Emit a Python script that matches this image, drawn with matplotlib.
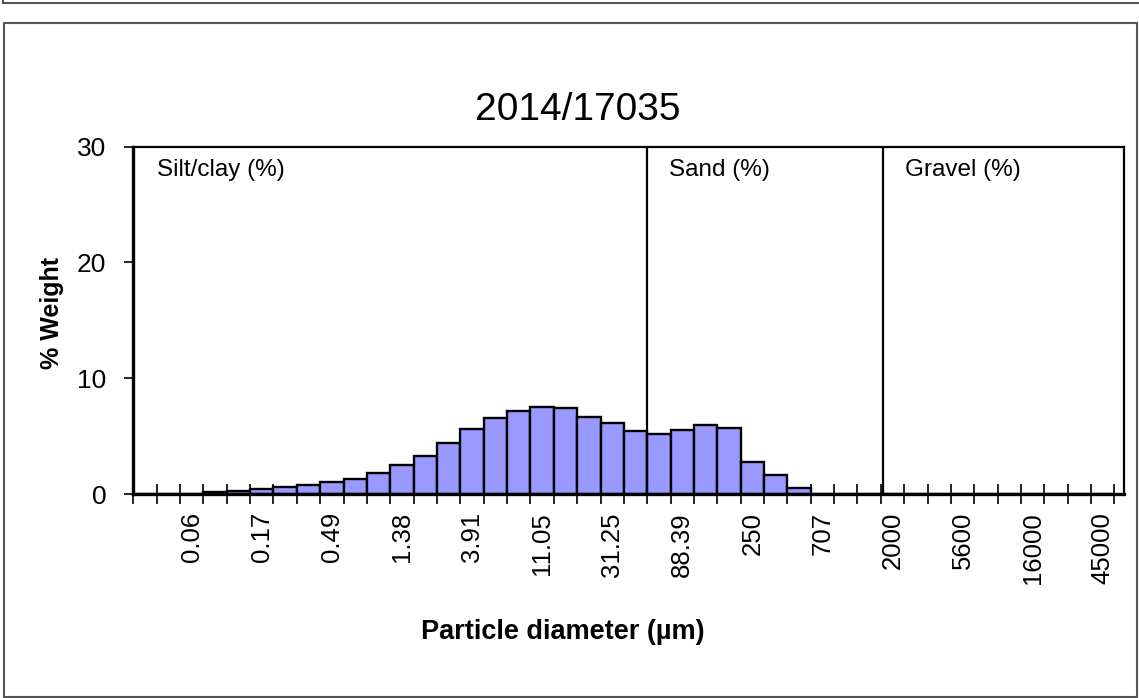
import matplotlib
matplotlib.use("Agg")
import matplotlib.pyplot as plt
from matplotlib.patches import Rectangle
from matplotlib.lines import Line2D

plt.rcParams["font.family"] = ["Liberation Sans", "DejaVu Sans"]

# Half-phi size classes (µm) and % weight retained in each class
sizes = ["0.03", "0.04", "0.06", "0.09", "0.12", "0.17", "0.24", "0.35", "0.49",
         "0.69", "0.98", "1.38", "1.95", "2.76", "3.91", "5.52", "7.81", "11.05",
         "15.63", "22.1", "31.25", "44.19", "62.5", "88.39", "125", "176.78",
         "250", "353.55", "500", "707", "1000", "1414", "2000", "2800", "4000",
         "5600", "8000", "11200", "16000", "22400", "31500", "45000"]
weights = [0.0, 0.0, 0.0, 0.15, 0.28, 0.45, 0.6, 0.8, 1.0,
           1.3, 1.85, 2.5, 3.3, 4.4, 5.6, 6.55, 7.2, 7.5,
           7.4, 6.65, 6.1, 5.45, 5.2, 5.5, 6.0, 5.7,
           2.75, 1.6, 0.55, 0.0, 0.0, 0.0, 0.0, 0.0, 0.0,
           0.0, 0.0, 0.0, 0.0, 0.0, 0.0, 0.0]
fractions = ["Silt/clay (%)", "Sand (%)", "Gravel (%)"]
fraction_bounds = [21.5, 31.6]
sample_id = "2014/17035"

W, H = 1139, 698
fig = plt.figure(figsize=(W / 100, H / 100), dpi=100)

def fx(px):
    return px / W

def fy(py):
    return 1 - py / H

# outer frames
fig.add_artist(Rectangle((fx(4), fy(696.5)), fx(1136.5) - fx(4), fy(23.3) - fy(696.5),
                         transform=fig.transFigure, fill=False, edgecolor="#555555", lw=1.5))
fig.add_artist(Line2D([fx(3), fx(1139)], [fy(3.3), fy(3.3)], transform=fig.transFigure,
                      color="#555555", lw=1.5))
fig.add_artist(Line2D([fx(3), fx(3)], [fy(3.3), 1.0], transform=fig.transFigure,
                      color="#555555", lw=1.5))

left, right, top, bottom = 133.3, 1124.3, 146.7, 494.0
ax = fig.add_axes([fx(left), fy(bottom), fx(right) - fx(left), fy(top) - fy(bottom)])

n = len(sizes)
xs = list(range(n))
ax.bar(xs, weights, width=1.0, color="#9999FF", edgecolor="black", linewidth=1.7, zorder=2)

ax.set_xlim(-0.5, -0.5 + (right - left) / 23.36)
ax.set_ylim(0, 30)

# category boundary tick marks, labels on every third class
ax.set_xticks([i - 0.5 for i in range(n + 1)], minor=True)
ax.set_xticks(xs[2::3])
ax.set_xticklabels(sizes[2::3], rotation=90, fontsize=18.5)
ax.tick_params(axis="x", which="major", length=0, pad=13)
ax.tick_params(axis="x", which="minor", direction="inout", length=15, width=1.2)

ax.set_yticks([0, 10, 20, 30])
ax.tick_params(axis="y", which="major", direction="out", length=6.5, width=1.2,
               labelsize=19, pad=13)

for side in ("left", "bottom"):
    ax.spines[side].set_linewidth(2.4)
for side in ("top", "right"):
    ax.spines[side].set_linewidth(1.6)

for xb in fraction_bounds:
    ax.axvline(xb, color="black", lw=1.6, zorder=3)

label_x = [0.5, 22.43, 32.53]
for lx, name in zip(label_x, fractions):
    ax.text(lx, 28.0, name, fontsize=17.5, ha="left", va="center")

fig.text(fx(577.7), fy(109.7), sample_id, fontsize=28, ha="center", va="center")
fig.text(fx(563), fy(632), "Particle diameter (µm)", fontsize=19.5, fontweight="bold",
         ha="center", va="center")
fig.text(fx(52), fy(313), "% Weight", fontsize=18, fontweight="bold",
         rotation=90, ha="center", va="center")

fig.savefig("out.png", dpi=100)
